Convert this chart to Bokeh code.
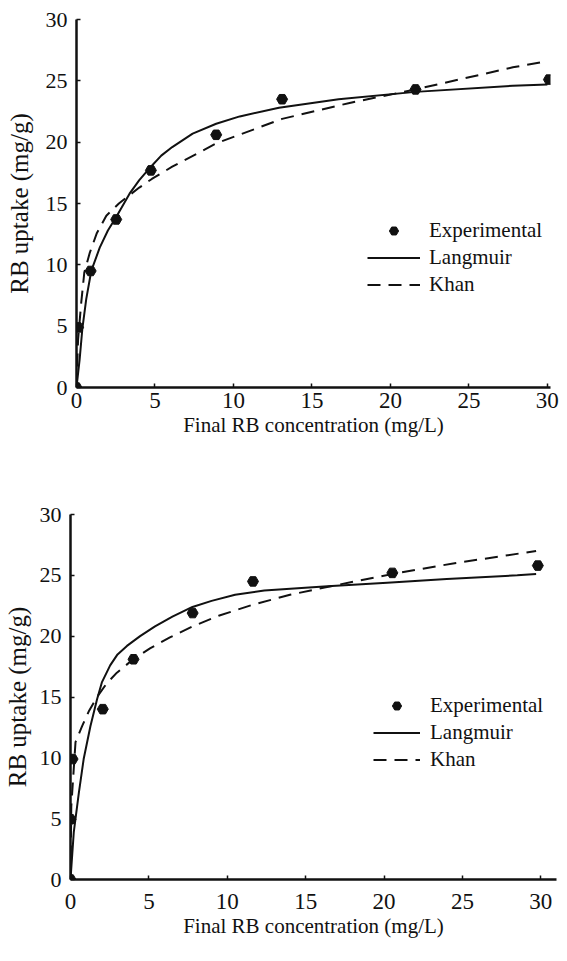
from bokeh.plotting import figure
from bokeh.models import FixedTicker, Legend, LegendItem, Range1d
from bokeh.embed import file_html
from bokeh.resources import INLINE

# ---- shared labels / ticks ----
x_ticks = [0, 5, 10, 15, 20, 25, 30]
y_ticks = [0, 5, 10, 15, 20, 25, 30]
x_label = "Final RB concentration (mg/L)"
y_label = "RB uptake (mg/g)"
legend_labels = ["Experimental", "Langmuir", "Khan"]

# ---- top panel ----
top_exp_c = [0, 0.1, 0.9, 2.53, 4.74, 8.9, 13.1, 21.6, 30.1]
top_exp_q = [0, 4.9, 9.5, 13.7, 17.7, 20.6, 23.5, 24.3, 25.1]

top_lang_c = [0, 0.2, 0.37, 0.62, 0.94, 1.48, 2.0, 2.53, 3.38, 4.0, 4.74, 5.4, 6.1, 7.4, 8.9, 10.4, 12.9, 16.7, 21.6, 27.8, 30.0]
top_lang_q = [0, 2.3, 4.75, 7.2, 9.5, 11.4, 12.8, 13.9, 15.8, 16.9, 18.0, 18.9, 19.6, 20.7, 21.5, 22.1, 22.8, 23.5, 24.1, 24.6, 24.7]

top_khan_c = [0, 0.1, 0.3, 0.5, 0.85, 1.3, 1.9, 2.7, 4.0, 4.8, 6.1, 8.9, 13.1, 17.4, 21.6, 27.8, 30.0]
top_khan_q = [0, 3.9, 6.9, 9.4, 11.0, 12.6, 14.0, 15.0, 16.3, 17.0, 18.0, 19.9, 21.9, 23.2, 24.3, 26.1, 26.6]

# ---- bottom panel ----
bot_exp_c = [0, 0, 0.13, 2.06, 4.02, 7.79, 11.64, 20.53, 29.81]
bot_exp_q = [0, 4.95, 9.9, 14.0, 18.1, 21.9, 24.5, 25.2, 25.8]

bot_lang_c = [0, 0.21, 0.53, 0.84, 1.27, 1.69, 2.0, 2.53, 3.0, 3.6, 4.44, 5.39, 6.5, 7.78, 9.0, 10.5, 12.36, 16.4, 20.2, 24.0, 28.5, 29.7]
bot_lang_q = [0, 3.9, 7.1, 9.9, 12.6, 14.8, 16.2, 17.6, 18.5, 19.2, 20.0, 20.8, 21.6, 22.4, 22.9, 23.4, 23.75, 24.1, 24.4, 24.7, 25.0, 25.1]

bot_khan_c = [0, 0.05, 0.32, 0.74, 1.16, 1.69, 2.3, 2.96, 4.0, 5.07, 6.34, 7.78, 9.5, 11.66, 14.0, 16.2, 20.5, 24.5, 29.7]
bot_khan_q = [0, 6.0, 11.3, 12.6, 13.8, 15.0, 16.1, 17.0, 18.1, 19.0, 19.9, 20.8, 21.7, 22.6, 23.4, 24.0, 25.1, 26.0, 27.0]

INK = "#111111"
FONT = "Liberation Serif"


def make_panel(exp_c, exp_q, lang_c, lang_q, khan_c, khan_q,
               height, x_end, borders, tick_standoff, label_standoff,
               ylab_standoff, legend_loc, glyph_w, label_gap):
    bl, br, bt, bb = borders
    p = figure(width=559, height=height, output_backend="svg", toolbar_location=None,
               x_range=Range1d(0, x_end), y_range=Range1d(0, 30),
               min_border_left=bl, min_border_right=br,
               min_border_top=bt, min_border_bottom=bb)
    p.outline_line_color = None
    p.xgrid.visible = False
    p.ygrid.visible = False
    p.background_fill_color = "white"

    for ax in (p.xaxis[0], p.yaxis[0]):
        ax.axis_line_width = 2.5
        ax.axis_line_color = INK
        ax.major_tick_in = 4
        ax.major_tick_out = 0
        ax.major_tick_line_color = INK
        ax.major_tick_line_width = 1.5
        ax.minor_tick_line_color = None
        ax.major_label_text_font = FONT
        ax.major_label_text_color = INK
        ax.axis_label_text_font = FONT
        ax.axis_label_text_font_style = "normal"
        ax.axis_label_text_color = INK

    p.xaxis.ticker = FixedTicker(ticks=x_ticks)
    p.yaxis.ticker = FixedTicker(ticks=y_ticks)
    p.xaxis.axis_label = x_label
    p.yaxis.axis_label = y_label
    p.xaxis.major_label_text_font_size = "23px"
    p.yaxis.major_label_text_font_size = "22px"
    p.xaxis.axis_label_text_font_size = "21px"
    p.yaxis.axis_label_text_font_size = "25px"
    p.xaxis.major_label_standoff = tick_standoff
    p.xaxis.axis_label_standoff = label_standoff
    p.yaxis.major_label_standoff = 9
    p.yaxis.axis_label_standoff = ylab_standoff

    r_lang = p.line(lang_c, lang_q, line_color=INK, line_width=2)
    r_khan = p.line(khan_c, khan_q, line_color=INK, line_width=2, line_dash="13 8")
    r_exp = p.scatter(exp_c, exp_q, marker="hex", size=11,
                      fill_color=INK, line_color=INK)

    leg = Legend(items=[LegendItem(label=legend_labels[0], renderers=[r_exp]),
                        LegendItem(label=legend_labels[1], renderers=[r_lang]),
                        LegendItem(label=legend_labels[2], renderers=[r_khan])],
                 location=legend_loc, orientation="vertical",
                 glyph_width=glyph_w, glyph_height=23, label_height=23,
                 label_standoff=label_gap, spacing=2, padding=0, margin=0,
                 border_line_color=None, background_fill_alpha=0,
                 label_text_font=FONT, label_text_font_size="21px",
                 label_text_color=INK)
    p.add_layout(leg)
    return p


p1 = make_panel(top_exp_c, top_exp_q, top_lang_c, top_lang_q, top_khan_c, top_khan_q,
                height=450, x_end=30.2, borders=(76, 9, 19, 63),
                tick_standoff=5, label_standoff=2, ylab_standoff=10,
                legend_loc=(291, 90), glyph_w=53, label_gap=9)

p2 = make_panel(bot_exp_c, bot_exp_q, bot_lang_c, bot_lang_q, bot_khan_c, bot_khan_q,
                height=495, x_end=31, borders=(67, 3, 64, 66),
                tick_standoff=14, label_standoff=2, ylab_standoff=6,
                legend_loc=(303, 107), glyph_w=47, label_gap=10)

open("out.html", "w").write(file_html([p1, p2], INLINE))
